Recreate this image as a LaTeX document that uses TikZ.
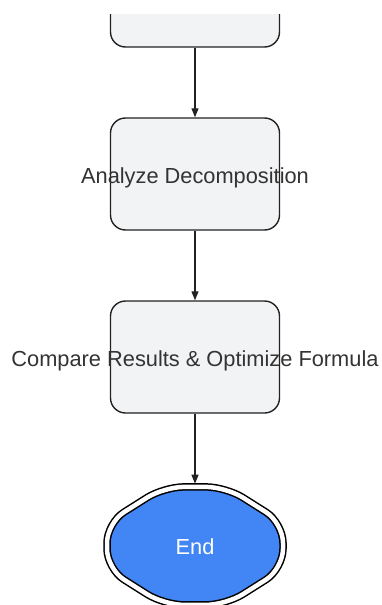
\documentclass[tikz,border=0pt]{standalone}
\usepackage{fontspec}
\setmainfont{Liberation Sans}
\usetikzlibrary{positioning,arrows.meta}
\definecolor{boxfill}{HTML}{F2F3F5}
\definecolor{boxline}{HTML}{222222}
\definecolor{txt}{HTML}{333333}
\definecolor{endfill}{HTML}{4285F4}

\begin{document}
\begin{tikzpicture}
		[x=1pt,y=-1pt,
		step box/.style={rectangle,rounded corners=15pt,draw=boxline,fill=boxfill,line width=1.4pt,
			minimum width=169pt,minimum height=112pt,inner sep=0pt,text height=19.3pt,text depth=0pt,
			text=txt,font=\fontsize{21.8pt}{26pt}\selectfont},
		end box/.style={rectangle,inner sep=0pt,minimum width=184pt,minimum height=124pt,
			text height=18pt,text depth=0pt,text=white,font=\fontsize{21.8pt}{26pt}\selectfont},
		flow/.style={-{Triangle[length=9pt,width=7pt]},draw=boxline,line width=1.2pt}]
		\useasboundingbox (0,0) rectangle (381,605);
		\clip (0,14) rectangle (381,605);

		\node [step box] (prev) at (195,-9) {};
		\node [step box] (analyze) [below=69.6pt of prev] {\makebox[0pt]{Analyze Decomposition}};
		\node [step box] (compare) [below=69.6pt of analyze] {\makebox[0pt]{Compare Results \& Optimize Formula}};
		\node [end box] (end) [below=70pt of compare] {};

		% octagon outline of the end node
		\begin{scope}[shift={(end.center)}]
			\draw [fill=endfill,draw=black,line width=1.5pt,double=white,double distance=4.5pt,rounded corners=20pt]
				(-31,-59) -- (31,-59) -- (88,-23) -- (88,23) -- (31,59) -- (-31,59) -- (-88,23) -- (-88,-23) -- cycle;
		\end{scope}
		\node [end box] at (end.center) {End};

		\draw [flow] (prev) -- (analyze);
		\draw [flow] (analyze) -- (compare);
		\draw [flow] (compare) -- (end);
	\end{tikzpicture}
\end{document}
